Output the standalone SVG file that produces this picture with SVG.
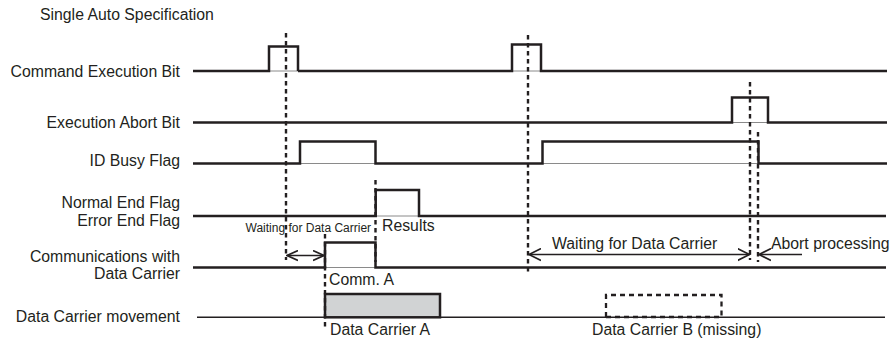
<svg xmlns="http://www.w3.org/2000/svg" width="893" height="344" viewBox="0 0 893 344">
<style>
  text { font-family: "Liberation Sans", Arial, sans-serif; font-size: 15.8px; fill: #231f20; }
  .lbl { text-anchor: end; }
  .small { font-size: 12px; }
  .sig { fill: none; stroke: #231f20; stroke-width: 2.5; stroke-linejoin: miter; }
  .base { fill: none; stroke: #8a8a8a; stroke-width: 1; }
  .thin { fill: none; stroke: #231f20; stroke-width: 1.4; }
  .dash { fill: none; stroke: #231f20; stroke-width: 2.4; stroke-dasharray: 4.5 3.5; }
  .arr { fill: none; stroke: #231f20; stroke-width: 1.6; }
</style>
<defs>
  <marker id="head" markerUnits="userSpaceOnUse" markerWidth="14" markerHeight="14" refX="12" refY="6" orient="auto-start-reverse" viewBox="0 0 14 12">
    <path d="M0,0 L12,6 L0,12" fill="none" stroke="#231f20" stroke-width="1.6"/>
  </marker>
  <marker id="headS" markerUnits="userSpaceOnUse" markerWidth="12" markerHeight="12" refX="11" refY="5" orient="auto-start-reverse" viewBox="0 0 12 10">
    <path d="M0,0 L11,5 L0,10" fill="none" stroke="#231f20" stroke-width="1.6"/>
  </marker>
</defs>

<text x="40" y="20">Single Auto Specification</text>

<g id="cmd-exec-bit">
  <text class="lbl" x="180" y="77">Command Execution Bit</text>
  <line class="base" x1="193" y1="71" x2="887" y2="71"/>
  <path class="sig" d="M193,71 H269 V46.5 H298 V71 M298,71 H512 V44.5 H541 V71 H887"/>
</g>

<g id="exec-abort-bit">
  <text class="lbl" x="180" y="128">Execution Abort Bit</text>
  <line class="base" x1="193" y1="122.5" x2="887" y2="122.5"/>
  <path class="sig" d="M193,122.5 H732 V97.5 H768 V122.5 H887"/>
</g>

<g id="id-busy-flag">
  <text class="lbl" x="180" y="166">ID Busy Flag</text>
  <line class="base" x1="193" y1="163.5" x2="887" y2="163.5"/>
  <path class="sig" d="M193,163.5 H300 V141.5 H375.5 V163.5 H542.5 V141.5 H758.5 V163.5 H887"/>
</g>

<g id="end-flags">
  <text class="lbl" x="180" y="208">Normal End Flag</text>
  <text class="lbl" x="180" y="225.5">Error End Flag</text>
  <line class="base" x1="193" y1="216" x2="886" y2="216"/>
  <path class="sig" d="M193,216 H375.7 V190 H419 V216 H886"/>
  <text x="382" y="231">Results</text>
</g>

<g id="comm-data-carrier">
  <text class="lbl" x="180" y="261.5">Communications with</text>
  <text class="lbl" x="180" y="278.5">Data Carrier</text>
  <line class="base" x1="193" y1="267.5" x2="886" y2="267.5"/>
  <path class="sig" d="M193,267.5 H325 V242.5 H375.5 V267.5 H886"/>
  <text x="329" y="285">Comm. A</text>
</g>

<g id="carrier-movement">
  <text class="lbl" x="180" y="322">Data Carrier movement</text>
  <line class="thin" x1="197" y1="317.3" x2="885" y2="317.3"/>
  <rect id="carrier-a" x="325" y="294" width="115" height="23.3" fill="#d1d3d4" stroke="#231f20" stroke-width="2.5"/>
  <text x="330" y="335">Data Carrier A</text>
  <path id="carrier-b" d="M606,317 V295 H721.5 V317 H606" fill="none" stroke="#231f20" stroke-width="2.3" stroke-dasharray="5 4"/>
  <text x="592" y="335">Data Carrier B (missing)</text>
</g>

<g id="connectors">
  <line class="dash" x1="286" y1="33" x2="286" y2="260"/>
  <line class="dash" x1="528" y1="35" x2="528" y2="275"/>
  <line class="dash" x1="375.5" y1="180" x2="375.5" y2="262"/>
  <line class="dash" x1="325" y1="234" x2="325" y2="330"/>
  <line class="dash" x1="750" y1="82" x2="750" y2="260"/>
  <line class="dash" x1="758" y1="132" x2="758" y2="262"/>
  <line class="arr" x1="287" y1="255.5" x2="324" y2="255.5" marker-start="url(#headS)" marker-end="url(#headS)"/>
  <text class="small" x="245.5" y="231.5">Waiting for Data Carrier</text>
  <line class="arr" x1="529" y1="254.5" x2="749.5" y2="254.5" marker-start="url(#head)" marker-end="url(#head)"/>
  <text x="552" y="249">Waiting for Data Carrier</text>
  <line class="arr" x1="802" y1="254.5" x2="759" y2="254.5" marker-end="url(#head)"/>
  <text x="771" y="248.5">Abort processing</text>
</g>
</svg>
